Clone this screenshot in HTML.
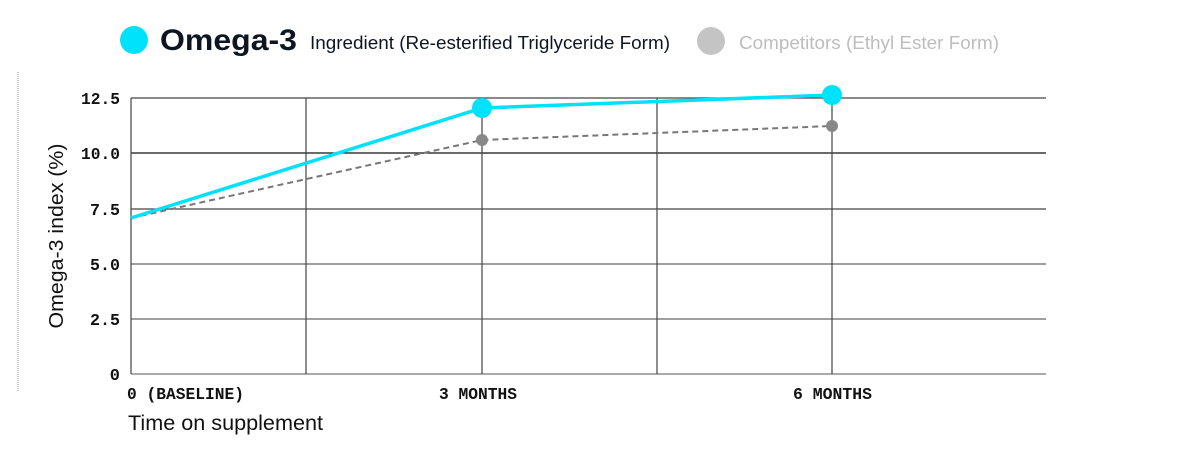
<!DOCTYPE html>
<html><head><style>body{margin:0;background:#fff}</style></head><body>
<svg width="1200" height="450" xmlns="http://www.w3.org/2000/svg">
<circle cx="134" cy="40" r="14" fill="#00e1fb"/>
<text x="160" y="50" font-family="Liberation Sans, sans-serif" font-weight="bold" font-size="30" fill="#0d1620" textLength="137" lengthAdjust="spacingAndGlyphs">Omega-3</text>
<text x="310" y="49" font-family="Liberation Sans, sans-serif" font-size="18" fill="#0d1620" textLength="360" lengthAdjust="spacingAndGlyphs">Ingredient (Re-esterified Triglyceride Form)</text>
<circle cx="711" cy="41" r="14" fill="#c4c4c4"/>
<text x="739" y="49" font-family="Liberation Sans, sans-serif" font-size="18" fill="#bdbdbd" textLength="260" lengthAdjust="spacingAndGlyphs">Competitors (Ethyl Ester Form)</text>
<line x1="18" y1="72" x2="18" y2="392" stroke="#999" stroke-dasharray="1 1"/>
<g stroke="#444" stroke-width="1.2">
<line x1="131" y1="98" x2="1046" y2="98"/>
<line x1="131" y1="153" x2="1046" y2="153" stroke="#111"/>
<line x1="131" y1="209" x2="1046" y2="209"/>
<line x1="131" y1="264" x2="1046" y2="264" stroke="#666"/>
<line x1="131" y1="319" x2="1046" y2="319" stroke="#666"/>
<line x1="131" y1="374" x2="1046" y2="374" stroke="#777"/>
<line x1="131" y1="98" x2="131" y2="374"/>
<line x1="306" y1="98" x2="306" y2="374"/>
<line x1="482" y1="98" x2="482" y2="374"/>
<line x1="657" y1="98" x2="657" y2="374"/>
<line x1="832" y1="98" x2="832" y2="374"/>
</g>
<g font-family="Liberation Mono, monospace" font-weight="bold" font-size="17" fill="#111" text-anchor="end">
<text x="120" y="104" textLength="39" lengthAdjust="spacingAndGlyphs">12.5</text><text x="120" y="159" textLength="39" lengthAdjust="spacingAndGlyphs">10.0</text><text x="120" y="215" textLength="30" lengthAdjust="spacingAndGlyphs">7.5</text>
<text x="120" y="270" textLength="30" lengthAdjust="spacingAndGlyphs">5.0</text><text x="120" y="325" textLength="30" lengthAdjust="spacingAndGlyphs">2.5</text><text x="120" y="380">0</text>
</g>
<g font-family="Liberation Mono, monospace" font-weight="bold" font-size="17" fill="#111">
<text x="127" y="399" textLength="117" lengthAdjust="spacingAndGlyphs">0 (BASELINE)</text>
<text x="439" y="399" textLength="78" lengthAdjust="spacingAndGlyphs">3 MONTHS</text>
<text x="793" y="399" textLength="79" lengthAdjust="spacingAndGlyphs">6 MONTHS</text>
</g>
<text transform="translate(63,236) rotate(-90)" text-anchor="middle" font-family="Liberation Sans, sans-serif" font-size="20" fill="#111" textLength="185" lengthAdjust="spacingAndGlyphs">Omega-3 index (%)</text>
<text x="128" y="430" font-family="Liberation Sans, sans-serif" font-size="21" fill="#111" textLength="195" lengthAdjust="spacingAndGlyphs">Time on supplement</text>
<polyline points="131,218 482,140 832,126" fill="none" stroke="#777" stroke-width="2" stroke-dasharray="6 4"/>
<circle cx="482" cy="140" r="6" fill="#888"/><circle cx="832" cy="126" r="6" fill="#888"/>
<polyline points="131,218 482,108 832,95" fill="none" stroke="#00e1fb" stroke-width="3.5"/>
<circle cx="482" cy="108" r="10" fill="#00e1fb"/><circle cx="832" cy="95" r="10" fill="#00e1fb"/>
</svg>
</body></html>
